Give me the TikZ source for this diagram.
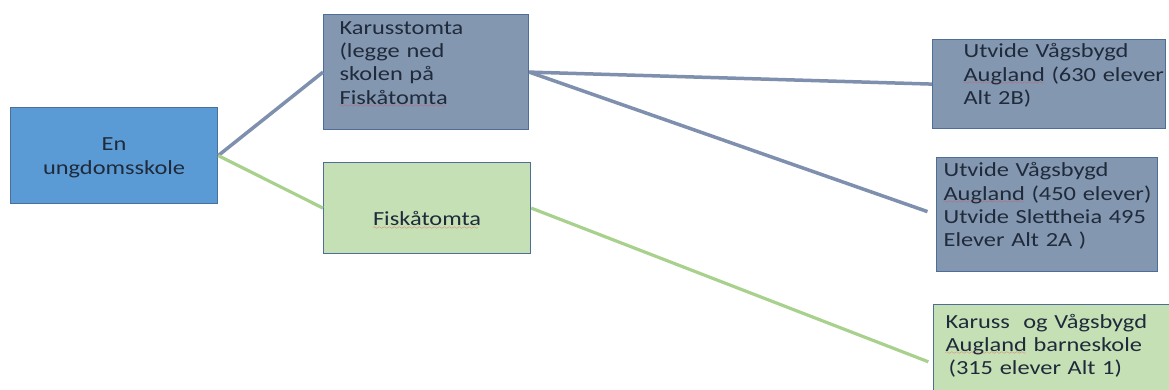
\documentclass[tikz,border=0pt]{standalone}
\usepackage{fontspec}
\setmainfont{Carlito}[FakeStretch=1.22]
\hyphenpenalty=10000
\exhyphenpenalty=10000

\definecolor{rootblue}{HTML}{5B9BD5}
\definecolor{slate}{HTML}{8497B0}
\definecolor{lightgreen}{HTML}{C5E0B4}
\definecolor{boxline}{HTML}{4E6E9A}
\definecolor{slateline}{HTML}{7F8FAE}
\definecolor{greenline}{HTML}{A9D18E}
\definecolor{textdark}{HTML}{1F2A3A}
\definecolor{spellred}{HTML}{E0484A}

% red wavy spell-check mark
\font\spellwave=lasy6
\newcommand\spelling[1]{\leavevmode\setbox0=\hbox{#1}\rlap{\textcolor{spellred}{\lower3.5pt\hbox to \wd0{\leaders\hbox{\spellwave\char58}\hfil}}}\box0}

\begin{document}
\begin{tikzpicture}[x=1pt, y=-1pt]
    \tikzstyle{box} = [rectangle, draw=boxline, line width=1.2pt, anchor=north west, inner ysep=0pt, align=left, text=textdark, font=\fontsize{20}{23.3}\selectfont]
    \tikzstyle{slatelink} = [draw=slateline, line width=3.5pt]
    \tikzstyle{greenlink} = [draw=greenline, line width=3.2pt]

    \useasboundingbox (0,0) rectangle (1169,390);

    % Root
    \node [box, fill=rootblue, align=center, inner xsep=0pt, text width=207pt, minimum height=96pt] (root) at (10,107)
        {\rule{0pt}{17pt}En\\ungdomsskole};

    % Middle column
    \node [box, fill=slate, inner xsep=16pt, text width=173pt, minimum height=115pt] (karuss) at (323,14)
        {Karusstomta\\(legge~ned\\skolen~på\\\spelling{Fiskåtomta}\par\vspace*{15pt}};
    \node [box, fill=lightgreen, align=center, inner xsep=0pt, text width=207pt, minimum height=91pt] (fisk) at (323,162)
        {\rule{0pt}{39pt}\spelling{Fiskåtomta}};

    % Right column
    \node [box, fill=slate, inner xsep=31pt, text width=171pt, minimum height=89pt] (alt2b) at (932,39)
        {Utvide~Vågsbygd\\\spelling{Augland}~(630~elever\\Alt~2B)\par\vspace*{17pt}};
    \node [box, fill=slate, inner xsep=7pt, text width=207pt, minimum height=114pt] (alt2a) at (936,157)
        {Utvide~Vågsbygd\\\spelling{Augland}~(450~elever)\\Utvide~Slettheia~495\\Elever~Alt~2A~)\par\vspace*{17pt}};
    \node [box, fill=lightgreen, inner xsep=12pt, text width=226pt, minimum height=118pt] (alt1) at (933,304)
        {Karuss~~og~Vågsbygd\\\spelling{Augland}~barneskole\\\hspace*{3pt}(315~elever~Alt~1)\par\vspace*{36pt}};

    \draw [slatelink] (root.east) -- (karuss.west);
    \draw [greenlink] (root.east) -- (fisk.west);
    \draw [slatelink] (karuss.east) -- (alt2b.west);
    \draw [slatelink, shorten >=9pt] (karuss.east) -- (alt2a.west);
    \draw [greenlink, shorten >=5pt] (fisk.east) -- (alt1.west);
\end{tikzpicture}
\end{document}
